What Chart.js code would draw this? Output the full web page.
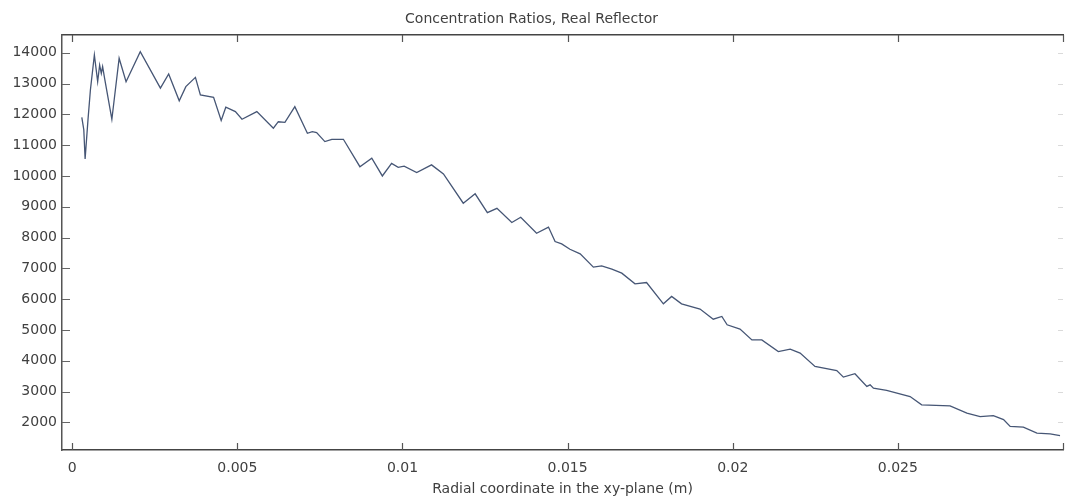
<!DOCTYPE html>
<html>
<head>
<meta charset="utf-8">
<script src="https://cdn.jsdelivr.net/npm/chart.js@4/dist/chart.umd.min.js"></script>
<style>
  html, body { margin: 0; padding: 0; background: #fff; }
  #wrap { width: 1065px; height: 499px; position: relative; }
</style>
</head>
<body>
<div id="wrap"><canvas id="c"></canvas></div>
<script>
const chartTitle = "Concentration Ratios, Real Reflector";
const xAxisTitle = "Radial coordinate in the xy-plane (m)";

const radius = [
  0.00029, 0.00035, 0.00039, 0.00048, 0.00055, 0.00067, 0.00077, 0.00083, 0.00088, 0.00092,
  0.00098, 0.00120, 0.00142, 0.00163, 0.00206, 0.00267, 0.00292, 0.00324, 0.00344, 0.00373,
  0.00388, 0.00428, 0.00451, 0.00465, 0.00494, 0.00514, 0.00559, 0.00609, 0.00624, 0.00644,
  0.00674, 0.00712, 0.00727, 0.00740, 0.00765, 0.00786, 0.00821, 0.00871, 0.00907, 0.00939,
  0.00967, 0.00987, 0.01005, 0.01043, 0.01088, 0.01124, 0.01184, 0.01220, 0.01257, 0.01286,
  0.01331, 0.01358, 0.01406, 0.01442, 0.01462, 0.01482, 0.01507, 0.01538, 0.01578, 0.01603,
  0.01634, 0.01664, 0.01704, 0.01739, 0.01790, 0.01815, 0.01845, 0.01901, 0.01941, 0.01967,
  0.01983, 0.02022, 0.02058, 0.02088, 0.02138, 0.02174, 0.02204, 0.02249, 0.02315, 0.02335,
  0.02370, 0.02406, 0.02416, 0.02426, 0.02466, 0.02537, 0.02572, 0.02658, 0.02709, 0.02749,
  0.02789, 0.02820, 0.02840, 0.02880, 0.02921, 0.02961, 0.02991
];

const concentration = [
  11900, 11500, 10550, 11870, 12790, 13925, 13060, 13600, 13330, 13550,
  13170, 11840, 13820, 13060, 14030, 12850, 13310, 12440, 12900, 13200,
  12630, 12550, 11800, 12230, 12090, 11840, 12090, 11550, 11760, 11740,
  12250, 11385, 11440, 11410, 11115, 11190, 11190, 10300, 10575, 10000,
  10410, 10280, 10320, 10110, 10360, 10065, 9115, 9420, 8810, 8950,
  8490, 8660, 8140, 8340, 7870, 7795, 7620, 7470, 7040, 7080,
  6975, 6845, 6500, 6540, 5850, 6090, 5850, 5680, 5350, 5440,
  5170, 5030, 4680, 4680, 4300, 4380, 4250, 3815, 3685, 3470,
  3580, 3170, 3220, 3110, 3040, 2840, 2570, 2540, 2300, 2190,
  2220, 2090, 1870, 1850, 1650, 1630, 1570
];

const xTickLabels = ["0", "0.005", "0.01", "0.015", "0.02", "0.025"];
const yTickValues = [2000, 3000, 4000, 5000, 6000, 7000, 8000, 9000, 10000, 11000, 12000, 13000, 14000];

const FONT = "'DejaVu Sans', sans-serif";
const TEXT = '#404040';

const innerTicks = {
  id: 'innerTicks',
  afterDraw(chart) {
    const { ctx, chartArea: a, scales } = chart;
    const x = scales.x, y = scales.y;
    ctx.save();
    ctx.lineWidth = 1.2;
    ctx.strokeStyle = '#555';
    x.ticks.forEach(t => {
      const px = Math.round(x.getPixelForValue(t.value)) + 0.5;
      ctx.beginPath();
      ctx.moveTo(px, a.bottom); ctx.lineTo(px, a.bottom - 7);
      ctx.moveTo(px, a.top); ctx.lineTo(px, a.top + 7);
      ctx.stroke();
    });
    ctx.strokeStyle = '#666';
    ctx.lineWidth = 1;
    y.ticks.forEach(t => {
      const py = Math.round(y.getPixelForValue(t.value)) + 0.5;
      ctx.beginPath();
      ctx.moveTo(a.left, py); ctx.lineTo(a.left + 8, py);
      ctx.stroke();
    });
    ctx.strokeStyle = '#dadada';
    y.ticks.forEach(t => {
      const py = Math.round(y.getPixelForValue(t.value)) + 0.5;
      ctx.beginPath();
      ctx.moveTo(a.right, py); ctx.lineTo(a.right - 5, py);
      ctx.stroke();
    });
    ctx.restore();
  }
};

function noSidePad(s) { s.paddingLeft = 0; s.paddingRight = 0; }

new Chart(document.getElementById('c'), {
  type: 'line',
  data: {
    datasets: [{
      data: radius.map((r, i) => ({ x: r, y: concentration[i] })),
      borderColor: '#465675',
      borderWidth: 1.3,
      pointRadius: 0,
      tension: 0,
      fill: false
    }]
  },
  options: {
    responsive: true,
    maintainAspectRatio: false,
    animation: false,
    layout: { padding: { left: 0, right: 2, top: 0, bottom: 0 } },
    plugins: {
      legend: { display: false },
      tooltip: { enabled: false },
      title: {
        display: true,
        text: chartTitle,
        color: TEXT,
        font: { family: FONT, size: 14, weight: 'normal' },
        padding: { top: 10.6, bottom: 7.6 }
      }
    },
    scales: {
      x: {
        type: 'linear',
        position: 'bottom',
        min: -0.00031,
        max: 0.03,
        afterFit: s => { s.height = 49; noSidePad(s); },
        ticks: {
          stepSize: 0.005,
          includeBounds: false,
          autoSkip: false,
          maxRotation: 0,
          color: TEXT,
          font: { family: FONT, size: 14 },
          padding: 10,
          callback: (v) => {
            const i = Math.round(v / 0.005);
            return xTickLabels[i] !== undefined ? xTickLabels[i] : '';
          }
        },
        grid: { display: true, drawOnChartArea: false, drawTicks: false },
        border: { display: true, color: '#444', width: 1.5 },
        title: {
          display: true,
          text: xAxisTitle,
          color: TEXT,
          font: { family: FONT, size: 14 },
          padding: { top: 0, bottom: 1 }
        }
      },
      x2: {
        type: 'linear',
        position: 'top',
        min: -0.00031,
        max: 0.03,
        afterFit: s => { s.height = 0; noSidePad(s); },
        ticks: { display: false },
        grid: { display: true, drawOnChartArea: false, drawTicks: false },
        border: { display: true, color: '#444', width: 1.5 }
      },
      y: {
        type: 'linear',
        position: 'left',
        min: 1105,
        max: 14575,
        afterFit: s => { s.width = 62; s.paddingTop = 0; s.paddingBottom = 0; },
        afterBuildTicks: s => { s.ticks = yTickValues.map(v => ({ value: v })); },
        ticks: {
          color: TEXT,
          font: { family: FONT, size: 14 },
          padding: 5,
          callback: v => String(v)
        },
        grid: { display: true, drawOnChartArea: false, drawTicks: false },
        border: { display: true, color: '#555', width: 1.5 }
      }
    }
  },
  plugins: [innerTicks]
});
</script>
</body>
</html>
